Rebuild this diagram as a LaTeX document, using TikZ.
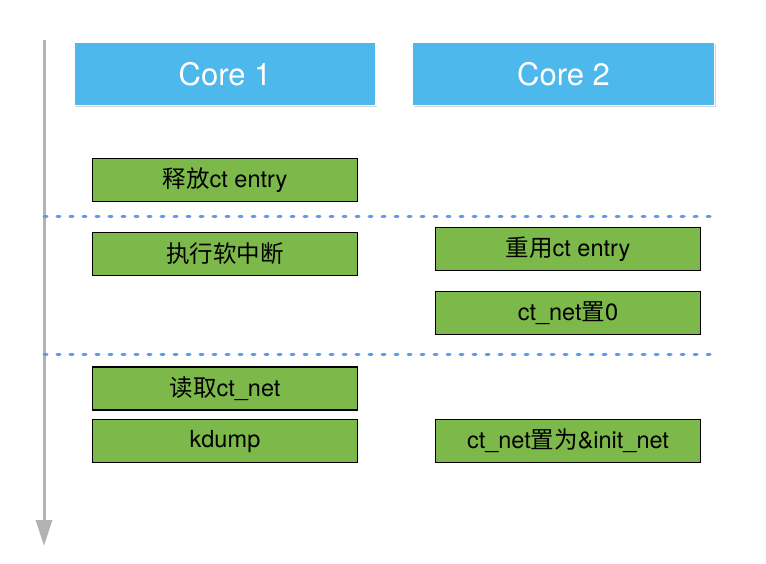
\documentclass[tikz,border=0pt]{standalone}
\usepackage{fontspec}
\setmainfont{TeX Gyre Heros}
\newfontfamily\cjk{Noto Sans CJK SC}
\usetikzlibrary{shadows,arrows.meta}
\definecolor{coreblue}{HTML}{4DB8EC}
\definecolor{taskgreen}{HTML}{7DB84A}
\definecolor{sepblue}{HTML}{5E9BEA}
\definecolor{timegray}{HTML}{B3B3B3}
\tikzset{
  corebox/.style={draw=white, line width=1.5pt, fill=coreblue, text=white,
    minimum width=302pt, minimum height=63pt, inner sep=0pt,
    font=\fontsize{31}{34}\selectfont,
    drop shadow={opacity=0.35, shadow xshift=1pt, shadow yshift=-2pt}},
  taskbox/.style={draw=black, line width=1.6pt, fill=taskgreen,
    minimum width=265pt, minimum height=43pt, inner sep=0pt,
    font=\fontsize{23.5}{26}\selectfont},
  sepline/.style={draw=sepblue, line width=3pt, line cap=round,
    dash pattern=on 3pt off 10pt},
  timeline/.style={draw=timegray, line width=3pt,
    -{Triangle[length=26pt,width=16pt]}}
}
\begin{document}
\begin{tikzpicture}[x=1pt,y=-1pt]
\useasboundingbox (0,0) rectangle (766,564);
% time axis
\coordinate (ttop) at (44,40);
\coordinate (tend) at (44,546);
\draw[timeline] (ttop) -- (tend);
% cores
\node[corebox] (core1) at (225,74) {Core 1};
\node[corebox] (core2) at (563.5,74) {Core 2};
% separators
\coordinate (sepAl) at (44,217);
\coordinate (sepAr) at (712,217);
\coordinate (sepBl) at (44,354);
\coordinate (sepBr) at (712,354);
\draw[sepline] (sepAl) -- (sepAr);
\draw[sepline] (sepBl) -- (sepBr);
% core 1 steps
\node[taskbox] (freect) at (225,180) {{\cjk 释放}ct entry};
\node[taskbox] (softirq) at (225,254) {\cjk 执行软中断};
\node[taskbox] (readnet) at (225,388.5) {{\cjk 读取}ct\_net};
\node[taskbox] (kdump) at (225,441) {kdump};
% core 2 steps
\node[taskbox] (reusect) at (568,249) {{\cjk 重用}ct entry};
\node[taskbox] (netzero) at (568,313) {ct\_net{\cjk 置}0};
\node[taskbox] (setinit) at (568,441) {ct\_net{\cjk 置为}\&init\_net};
\end{tikzpicture}
\end{document}
